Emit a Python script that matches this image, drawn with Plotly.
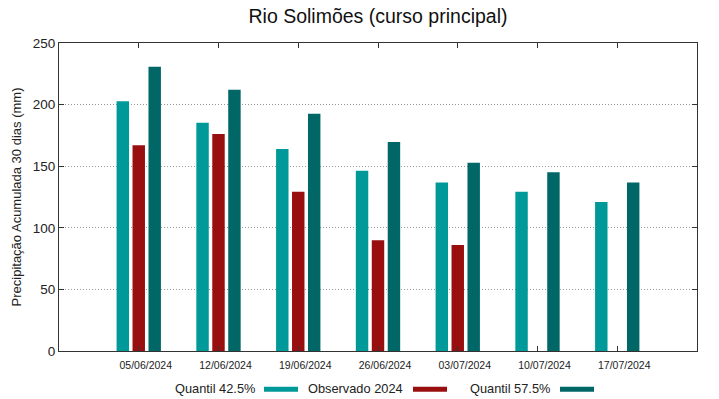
import plotly.graph_objects as go

categories = ["05/06/2024", "12/06/2024", "19/06/2024", "26/06/2024",
              "03/07/2024", "10/07/2024", "17/07/2024"]
quantil_425 = [202.8, 185.2, 164.0, 146.4, 136.7, 129.3, 120.9]
observado_2024 = [167.0, 176.2, 129.3, 89.8, 86.0, None, None]
quantil_575 = [230.7, 212.0, 192.5, 169.7, 152.9, 145.1, 136.7]
y_ticks = [0, 50, 100, 150, 200, 250]

series_names = ["Quantil 42.5%", "Observado 2024", "Quantil 57.5%"]
colors = ["#009999", "#990f0f", "#006666"]

W, H = 719, 399
L, R, T, B = 59, 22, 43, 48
PW, PH = W - L - R, H - T - B

def px_x(px):
    return (px - L) / PW

def px_y(py):
    return (H - B - py) / PH

FONT = "Liberation Sans, Arial, sans-serif"

fig = go.Figure()
xs = list(range(len(categories)))
for name, vals, col in zip(series_names, [quantil_425, observado_2024, quantil_575], colors):
    fig.add_trace(go.Bar(x=xs, y=vals, name=name, marker=dict(color=col, line=dict(width=0)),
                         showlegend=False))

fig.update_layout(
    width=W, height=H,
    margin=dict(l=L, r=R, t=T, b=B),
    paper_bgcolor="white", plot_bgcolor="white",
    barmode="group", bargap=0.4, bargroupgap=0.22,
    font=dict(family=FONT, color="#222222"),
    title=dict(text="Rio Solimões (curso principal)", x=px_x(378), xref="paper", xanchor="center",
               y=1 - 16 / H, yref="container", yanchor="middle",
               font=dict(size=19.5, family=FONT, color="#111111")),
)

fig.update_xaxes(
    range=[-1, 7], tickmode="array", tickvals=xs, ticktext=categories,
    ticks="inside", ticklen=5, tickcolor="#333333", mirror="ticks",
    showline=True, linecolor="#333333", linewidth=1, showgrid=False, zeroline=False,
    tickfont=dict(size=10.5, family=FONT, color="#222222"), ticklabelshift=7, ticklabelstandoff=4,
)
fig.update_yaxes(
    range=[0, 250], tickmode="array", tickvals=y_ticks,
    ticks="inside", ticklen=5, tickcolor="#333333", mirror="ticks",
    showline=True, linecolor="#333333", linewidth=1,
    showgrid=True, gridcolor="#999999", griddash="1px,2px", gridwidth=1, zeroline=False,
    tickfont=dict(size=13.5, family=FONT, color="#222222"),
    title=dict(text="Precipitação Acumulada 30 dias (mm)", font=dict(size=13, family=FONT, color="#222222"),
               standoff=8),
)

# custom legend: label followed by a colour swatch
legend_text_right = [257, 405, 552]
legend_swatch = [(264, 298), (413, 447), (560, 594)]
for name, col, tr, (s0, s1) in zip(series_names, colors, legend_text_right, legend_swatch):
    fig.add_annotation(text=name, x=px_x(tr), y=px_y(388), xref="paper", yref="paper",
                       xanchor="right", yanchor="middle", showarrow=False,
                       font=dict(size=12.8, family=FONT, color="#222222"))
    fig.add_shape(type="rect", xref="paper", yref="paper",
                  x0=px_x(s0), x1=px_x(s1), y0=px_y(386.8), y1=px_y(391.8),
                  fillcolor=col, line=dict(width=0))

fig.write_html("out.html", config={"displayModeBar": False},
               post_script="document.body.style.margin='0px';")
